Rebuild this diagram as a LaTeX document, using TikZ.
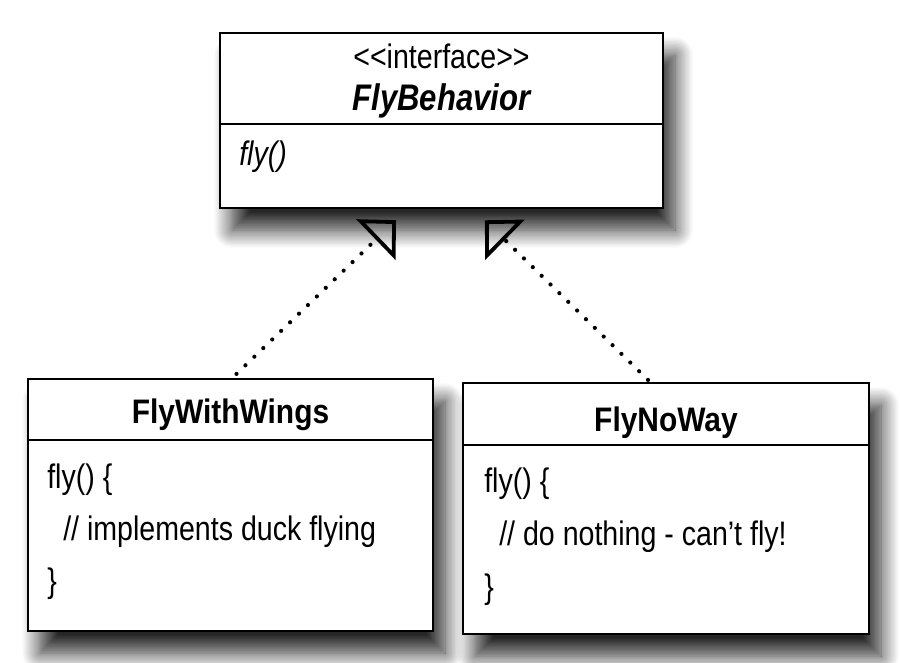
\documentclass[tikz,border=0pt]{standalone}
\usepackage{fontspec}
\setmainfont{Liberation Sans}[FakeStretch=0.84, BoldFeatures={FakeStretch=0.88}]
\usetikzlibrary{positioning,arrows.meta,shadows.blur}

\begin{document}
\begin{tikzpicture}[
				x=0.5pt, y=-0.5pt,
				font=\fontsize{17}{20}\selectfont,
				classbox/.style = {draw, line width=1.1pt, fill=white, inner sep=0pt,
					blur shadow={shadow xshift=6pt, shadow yshift=-11pt, shadow blur radius=9pt, shadow blur steps=14, shadow opacity=85}},
				divider/.style = {line width=1.1pt},
				title/.style = {anchor=base, inner sep=0pt, font=\fontsize{17}{20}\selectfont\bfseries},
				member/.style = {anchor=base west, inner sep=0pt},
				realize/.style = {line width=2.1pt, line cap=round, dash pattern=on 0pt off 6.2pt,
					-{Triangle[open, length=14pt, width=28pt, line width=1.9pt]}, shorten >=8pt}
			]
			\useasboundingbox (0,0) rectangle (900,663);
			% classes
			\node[classbox, minimum width=221.5pt, minimum height=87.5pt] (fb) at (441.5,120.5) {};
			\node[classbox, minimum width=202.5pt, minimum height=126pt] (fww) at (230.5,505) {};
			\node[classbox, minimum width=203pt, minimum height=125.5pt] (fnw) at (666,508.5) {};
			\draw[divider] ([yshift=-46pt]fb.north west) -- ([yshift=-46pt]fb.north east);
			\draw[divider] ([yshift=-31pt]fww.north west) -- ([yshift=-31pt]fww.north east);
			\draw[divider] ([yshift=-31.5pt]fnw.north east) -- ([yshift=-31.5pt]fnw.north west);
			% interface
			\node[anchor=base, inner sep=0pt] (fbstereo) at ([yshift=-18.5pt]fb.north) {<{}<interface>{}>};
			\node[title, font=\fontsize{18.5}{22}\selectfont\bfseries\itshape] (fbname) at ([yshift=-39.5pt]fb.north) {FlyBehavior};
			\node[member, font=\fontsize{17}{20}\selectfont\itshape] (fbfly) at ([xshift=10pt, yshift=-67pt]fb.north west) {fly()};
			% FlyWithWings
			\node[title] (fwwname) at ([yshift=-23pt]fww.north) {FlyWithWings};
			\node[member] (fwwfly) at ([xshift=10pt, yshift=-55.5pt]fww.north west) {fly() \{};
			\node[member] (fwwbody) at ([xshift=18pt, yshift=-81.5pt]fww.north west) {// implements duck flying};
			\node[member] (fwwend) at ([xshift=10pt, yshift=-107.5pt]fww.north west) {\}};
			% FlyNoWay
			\node[title] (fnwname) at ([yshift=-25pt]fnw.north) {FlyNoWay};
			\node[member] (fnwfly) at ([xshift=11pt, yshift=-55.5pt]fnw.north west) {fly() \{};
			\node[member] (fnwbody) at ([xshift=18.5pt, yshift=-82pt]fnw.north west) {// do nothing - can’t fly!};
			\node[member] (fnwend) at ([xshift=11pt, yshift=-108.5pt]fnw.north west) {\}};
			% realizations
			\coordinate (fbl) at ([xshift=-17pt]fb.south);
			\coordinate (fbr) at ([xshift=16pt]fb.south);
			\draw[realize] ([xshift=3pt, yshift=2pt]fww.north) -- (fbl);
			\draw[realize] ([xshift=-9pt, yshift=1pt]fnw.north) -- (fbr);
		\end{tikzpicture}
\end{document}
